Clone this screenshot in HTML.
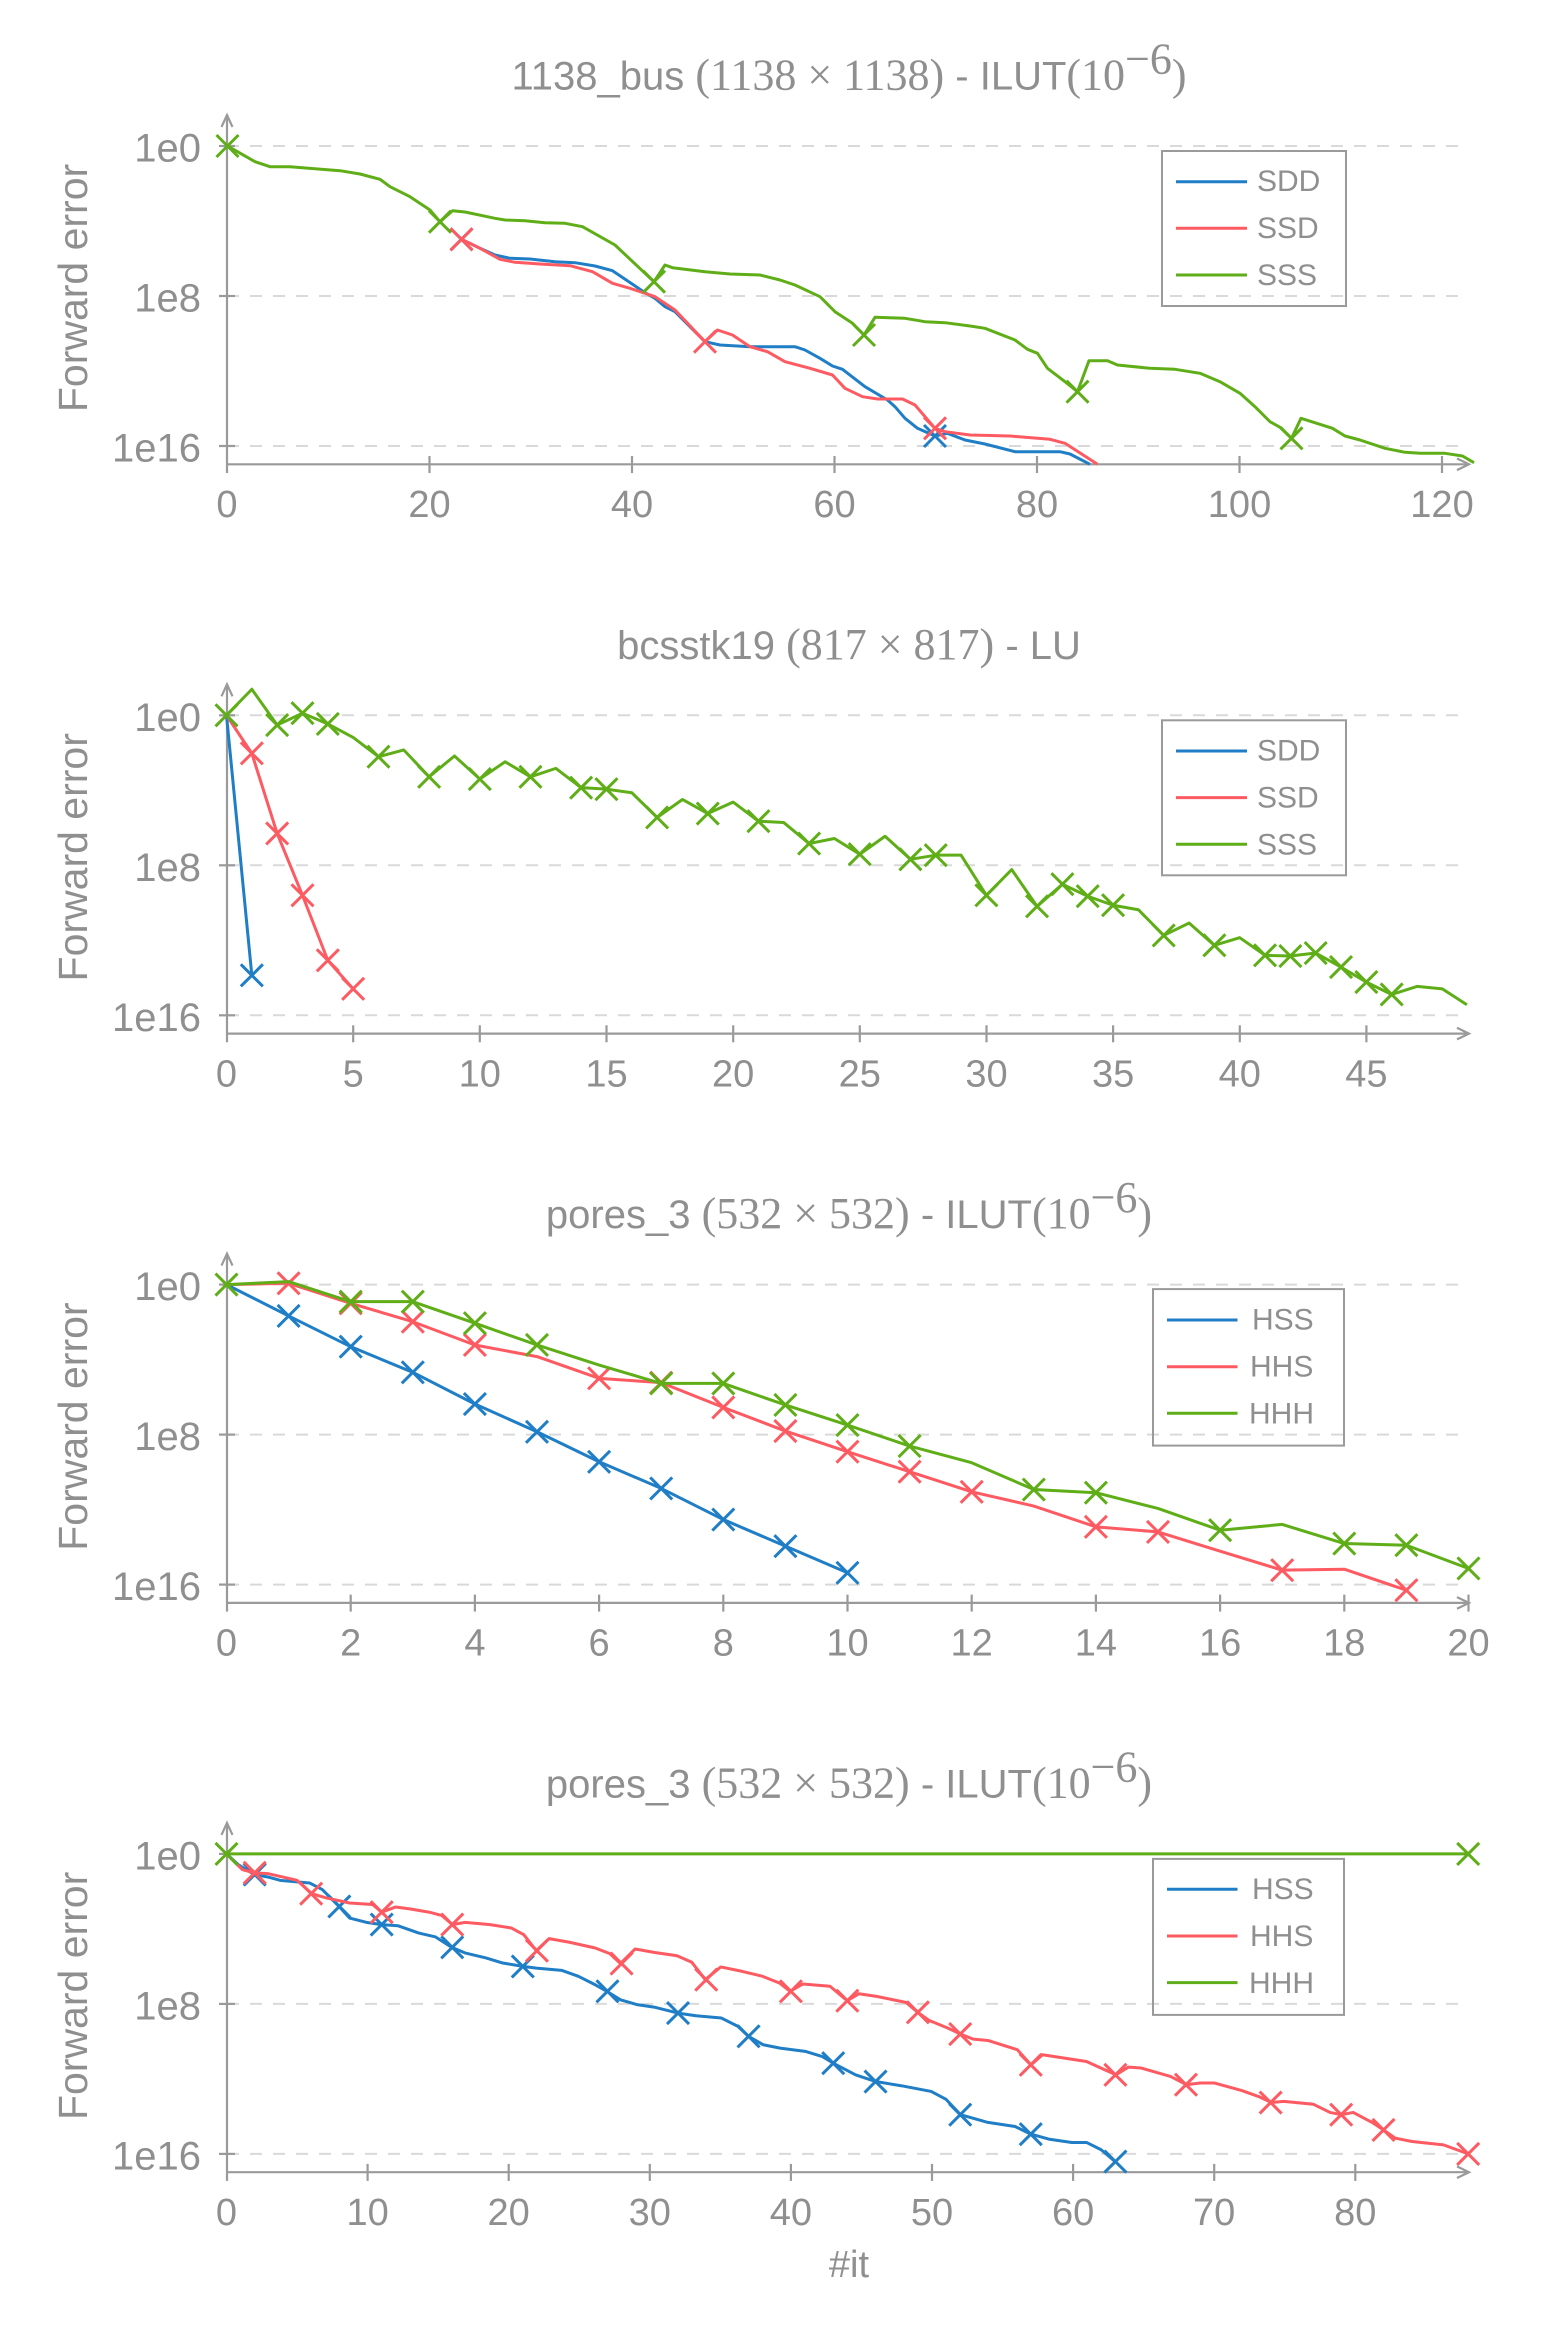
<!DOCTYPE html>
<html>
<head>
<meta charset="utf-8">
<style>
html,body{margin:0;padding:0;background:#fff;}
svg{display:block;}
text{font-family:"Liberation Sans",Arial,sans-serif;fill:#8f8f8f;}
.m{font-family:"Liberation Serif","Times New Roman",serif;font-size:44px;}
.t{font-size:40px;}
.xl{font-size:38px;}
.yl{font-size:40px;}
.lg{font-size:30px;}
.ax line,.ax polyline{stroke:#9a9a9a;stroke-width:2.2;fill:none;}
.gr line{stroke:#d9d9d9;stroke-width:2;stroke-dasharray:12 11;}
.s polyline{fill:none;vector-effect:non-scaling-stroke;stroke-linejoin:round;}
</style>
</head>
<body>
<svg width="1550" height="2341" viewBox="0 0 1550 2341" xmlns="http://www.w3.org/2000/svg">
<defs>
<path id="xm" d="M-11,-11L11,11M-11,11L11,-11" fill="none"/>
<g id="frame">
  <g class="gr">
    <line x1="227" y1="146" x2="1458" y2="146"/>
    <line x1="227" y1="296" x2="1458" y2="296"/>
    <line x1="227" y1="446" x2="1458" y2="446"/>
  </g>
  <g class="ax">
    <line x1="227" y1="473" x2="227" y2="116"/>
    <polyline points="221.5,127 227,115 232.5,127"/>
    <line x1="227" y1="464.3" x2="1468" y2="464.3"/>
    <polyline points="1457,458.5 1469,464.3 1457,470.1"/>
    <line x1="219" y1="146" x2="235" y2="146"/>
    <line x1="219" y1="296" x2="235" y2="296"/>
    <line x1="219" y1="446" x2="235" y2="446"/>
  </g>
  <text class="yl" x="201" y="161.5" text-anchor="end">1e0</text>
  <text class="yl" x="201" y="311.5" text-anchor="end">1e8</text>
  <text class="yl" x="201" y="461.5" text-anchor="end">1e16</text>
  <text transform="translate(87,288) rotate(-90)" text-anchor="middle" font-size="41">Forward error</text>
</g>
</defs>

<!-- ================= CHART 1 ================= -->
<g>
  <use href="#frame"/>
  <text class="t" x="849" y="89.5" text-anchor="middle">1138_bus <tspan class="m">(1138 × 1138)</tspan> - ILUT<tspan class="m">(10</tspan><tspan class="m" font-size="24" dy="-16">−6</tspan><tspan class="m" dy="16">)</tspan></text>
  <g class="ax">
    <line x1="429.5" y1="456" x2="429.5" y2="473"/>
    <line x1="632" y1="456" x2="632" y2="473"/>
    <line x1="834.5" y1="456" x2="834.5" y2="473"/>
    <line x1="1037" y1="456" x2="1037" y2="473"/>
    <line x1="1239.5" y1="456" x2="1239.5" y2="473"/>
    <line x1="1442" y1="456" x2="1442" y2="473"/>
  </g>
  <g class="xl" text-anchor="middle">
    <text x="227" y="517">0</text><text x="429.5" y="517">20</text><text x="632" y="517">40</text>
    <text x="834.5" y="517">60</text><text x="1037" y="517">80</text><text x="1239.5" y="517">100</text><text x="1442" y="517">120</text>
  </g>
  <!-- legend -->
  <rect x="1162" y="151" width="184" height="155" fill="none" stroke="#9a9a9a" stroke-width="2"/>
  <line x1="1176" y1="181.7" x2="1247" y2="181.7" stroke="#1f7ec6" stroke-width="3"/>
  <line x1="1176" y1="228.3" x2="1247" y2="228.3" stroke="#fd5a62" stroke-width="3"/>
  <line x1="1176" y1="275" x2="1247" y2="275" stroke="#5fae18" stroke-width="3"/>
  <text class="lg" x="1257" y="191">SDD</text>
  <text class="lg" x="1257" y="238">SSD</text>
  <text class="lg" x="1257" y="285">SSS</text>
  <!-- blue -->
  <g stroke="#1f7ec6" stroke-width="3" class="s">
    <polyline points="461.5,239.3 470,243.3 480,248.3 495,255 510,258.3 530,259 555,261.7 575,262.7 595,266 612.5,270.7 645,292.7 655,298.3 665,306.7 675,311.7 705,341.7 720,345 750,346.7 795,346.7 805,350 820,358.3 832.5,366 842.5,369.3 865,386.7 887.5,400 895,406.7 905,418.3 917.5,428.3 935,436 947.5,433.3 965,440 985,444 1015,451.7 1060,451.7 1070,454 1090,464.3"/>
    <use href="#xm" x="461.5" y="239.3"/><use href="#xm" x="935" y="436"/>
  </g>
  <!-- red -->
  <g stroke="#fd5a62" stroke-width="3" class="s">
    <polyline points="461.5,239.3 480,248.3 500,259.3 515,262.3 540,264 570,265.7 592.5,271.7 612.5,283.3 630,288.3 655,296.7 675,310 705,341.7 717.5,330 732.5,335 750,346.7 767.5,351.7 785,361.7 810,368.3 832.5,375 845,388.3 862.5,396.7 877.5,399 902.5,399 915,405 935,428.3 945,431.7 970,435 1010,436 1050,439.3 1065,443.3 1097.5,464.3"/>
    <use href="#xm" x="461.5" y="239.3"/><use href="#xm" x="705" y="341.7"/><use href="#xm" x="935" y="428.3"/>
  </g>
  <!-- green -->
  <g stroke="#5fae18" stroke-width="3" class="s">
    <polyline points="227.5,146 237.5,151.7 255,161.7 270,166.7 290,166.7 340,170.7 360,174 380,179.3 390,186.7 410,196.7 430,210 440,221.7 452.5,210.7 465,212 495,218.3 505,220 525,220.7 545,222.7 565,223.3 582.5,226.7 615,245 645,273.3 654,281.7 665,265 672.5,267.7 705,271.7 730,274 760,275 780,280 795,285 820,296.7 835,311.7 852.5,323.3 864,335 875,317.3 905,318.3 925,321.7 945,322.7 970,326 985,328.3 1015,340 1027.5,349.3 1037.5,353.3 1047.5,368.3 1065,381.7 1077.5,391.7 1089,360.7 1107.5,360.7 1117.5,365 1150,368.3 1175,369.3 1200,373.3 1220,381.7 1240,393.3 1255,406.7 1270,421.7 1280,427.3 1291.5,438.3 1301,418.3 1332.5,428.3 1345,436 1360,440 1385,448.3 1405,452.3 1420,453.3 1445,453.3 1462.5,456 1474,462.7"/>
    <use href="#xm" x="227.5" y="146"/><use href="#xm" x="440" y="221.7"/><use href="#xm" x="654" y="281.7"/>
    <use href="#xm" x="864" y="335"/><use href="#xm" x="1077.5" y="391.7"/><use href="#xm" x="1291.5" y="438.3"/>
  </g>
</g>

<!-- ================= CHART 2 ================= -->
<g transform="translate(0,569.3)">
  <use href="#frame"/>
  <text class="t" x="849" y="89.5" text-anchor="middle">bcsstk19 <tspan class="m">(817 × 817)</tspan> - LU</text>
  <g class="ax">
    <line x1="353.2" y1="456" x2="353.2" y2="473"/><line x1="479.8" y1="456" x2="479.8" y2="473"/>
    <line x1="606.5" y1="456" x2="606.5" y2="473"/><line x1="733.2" y1="456" x2="733.2" y2="473"/>
    <line x1="859.8" y1="456" x2="859.8" y2="473"/><line x1="986.5" y1="456" x2="986.5" y2="473"/>
    <line x1="1113.1" y1="456" x2="1113.1" y2="473"/><line x1="1239.8" y1="456" x2="1239.8" y2="473"/>
    <line x1="1366.4" y1="456" x2="1366.4" y2="473"/>
  </g>
  <g class="xl" text-anchor="middle">
    <text x="226.5" y="517">0</text><text x="353.2" y="517">5</text><text x="479.8" y="517">10</text>
    <text x="606.5" y="517">15</text><text x="733.2" y="517">20</text><text x="859.8" y="517">25</text>
    <text x="986.5" y="517">30</text><text x="1113.1" y="517">35</text><text x="1239.8" y="517">40</text><text x="1366.4" y="517">45</text>
  </g>
  <rect x="1162" y="151" width="184" height="155" fill="none" stroke="#9a9a9a" stroke-width="2"/>
  <line x1="1176" y1="181.7" x2="1247" y2="181.7" stroke="#1f7ec6" stroke-width="3"/>
  <line x1="1176" y1="228.3" x2="1247" y2="228.3" stroke="#fd5a62" stroke-width="3"/>
  <line x1="1176" y1="275" x2="1247" y2="275" stroke="#5fae18" stroke-width="3"/>
  <text class="lg" x="1257" y="191">SDD</text>
  <text class="lg" x="1257" y="238">SSD</text>
  <text class="lg" x="1257" y="285">SSS</text>
  <g transform="translate(226.5,146) scale(25.33,18.75)">
    <g stroke="#1f7ec6" stroke-width="3" class="s">
      <polyline points="0,0 1,13.87"/>
      <use href="#xm" transform="translate(1,13.87) scale(.039479,.053333)"/>
    </g>
    <g stroke="#fd5a62" stroke-width="3" class="s">
      <polyline points="0,0 1,2.03 2,6.3 3,9.6 4,13.07 5,14.59"/>
      <use href="#xm" transform="translate(1,2.03) scale(.039479,.053333)"/>
      <use href="#xm" transform="translate(2,6.3) scale(.039479,.053333)"/>
      <use href="#xm" transform="translate(3,9.6) scale(.039479,.053333)"/>
      <use href="#xm" transform="translate(4,13.07) scale(.039479,.053333)"/>
      <use href="#xm" transform="translate(5,14.59) scale(.039479,.053333)"/>
    </g>
    <g stroke="#5fae18" stroke-width="3" class="s">
      <polyline points="0,0 1,-1.39 2,0.52 3,-0.11 4,0.46 5,1.18 6,2.21 7,1.85 8,3.28 9,2.17 10,3.4 11,2.48 12,3.28 13,2.83 14,3.86 15,3.94 16,4.13 17,5.45 18,4.49 19,5.24 20,4.63 21,5.65 22,5.72 23,6.84 24,6.57 25,7.41 26,6.45 27,7.68 28,7.46 29,7.46 30,9.6 31,8.23 32,10.19 33,9.01 34,9.65 35,10.13 36,10.37 37,11.74 38,11.08 39,12.27 40,11.86 41,12.8 42,12.84 43,12.68 44,13.43 45,14.23 46,14.89 47,14.46 48,14.59 48.97,15.44"/>
      <use href="#xm" transform="translate(0,0) scale(.039479,.053333)"/>
      <use href="#xm" transform="translate(2,0.52) scale(.039479,.053333)"/>
      <use href="#xm" transform="translate(3,-0.11) scale(.039479,.053333)"/>
      <use href="#xm" transform="translate(4,0.46) scale(.039479,.053333)"/>
      <use href="#xm" transform="translate(6,2.21) scale(.039479,.053333)"/>
      <use href="#xm" transform="translate(8,3.28) scale(.039479,.053333)"/>
      <use href="#xm" transform="translate(10,3.4) scale(.039479,.053333)"/>
      <use href="#xm" transform="translate(12,3.28) scale(.039479,.053333)"/>
      <use href="#xm" transform="translate(14,3.86) scale(.039479,.053333)"/>
      <use href="#xm" transform="translate(15,3.94) scale(.039479,.053333)"/>
      <use href="#xm" transform="translate(17,5.45) scale(.039479,.053333)"/>
      <use href="#xm" transform="translate(19,5.24) scale(.039479,.053333)"/>
      <use href="#xm" transform="translate(21,5.65) scale(.039479,.053333)"/>
      <use href="#xm" transform="translate(23,6.84) scale(.039479,.053333)"/>
      <use href="#xm" transform="translate(25,7.41) scale(.039479,.053333)"/>
      <use href="#xm" transform="translate(27,7.68) scale(.039479,.053333)"/>
      <use href="#xm" transform="translate(28,7.46) scale(.039479,.053333)"/>
      <use href="#xm" transform="translate(30,9.6) scale(.039479,.053333)"/>
      <use href="#xm" transform="translate(32,10.19) scale(.039479,.053333)"/>
      <use href="#xm" transform="translate(33,9.01) scale(.039479,.053333)"/>
      <use href="#xm" transform="translate(34,9.65) scale(.039479,.053333)"/>
      <use href="#xm" transform="translate(35,10.13) scale(.039479,.053333)"/>
      <use href="#xm" transform="translate(37,11.74) scale(.039479,.053333)"/>
      <use href="#xm" transform="translate(39,12.27) scale(.039479,.053333)"/>
      <use href="#xm" transform="translate(41,12.8) scale(.039479,.053333)"/>
      <use href="#xm" transform="translate(42,12.84) scale(.039479,.053333)"/>
      <use href="#xm" transform="translate(43,12.68) scale(.039479,.053333)"/>
      <use href="#xm" transform="translate(44,13.43) scale(.039479,.053333)"/>
      <use href="#xm" transform="translate(45,14.23) scale(.039479,.053333)"/>
      <use href="#xm" transform="translate(46,14.89) scale(.039479,.053333)"/>
    </g>
  </g>
</g>

<!-- ================= CHART 3 ================= -->
<g transform="translate(0,1138.6)">
  <use href="#frame"/>
  <text class="t" x="849" y="89.5" text-anchor="middle">pores_3 <tspan class="m">(532 × 532)</tspan> - ILUT<tspan class="m">(10</tspan><tspan class="m" font-size="24" dy="-16">−6</tspan><tspan class="m" dy="16">)</tspan></text>
  <g class="ax">
    <line x1="350.7" y1="456" x2="350.7" y2="473"/><line x1="474.9" y1="456" x2="474.9" y2="473"/>
    <line x1="599.1" y1="456" x2="599.1" y2="473"/><line x1="723.3" y1="456" x2="723.3" y2="473"/>
    <line x1="847.5" y1="456" x2="847.5" y2="473"/><line x1="971.7" y1="456" x2="971.7" y2="473"/>
    <line x1="1095.9" y1="456" x2="1095.9" y2="473"/><line x1="1220.1" y1="456" x2="1220.1" y2="473"/>
    <line x1="1344.3" y1="456" x2="1344.3" y2="473"/><line x1="1468.5" y1="456" x2="1468.5" y2="473"/>
  </g>
  <g class="xl" text-anchor="middle">
    <text x="226.5" y="517">0</text><text x="350.7" y="517">2</text><text x="474.9" y="517">4</text>
    <text x="599.1" y="517">6</text><text x="723.3" y="517">8</text><text x="847.5" y="517">10</text>
    <text x="971.7" y="517">12</text><text x="1095.9" y="517">14</text><text x="1220.1" y="517">16</text>
    <text x="1344.3" y="517">18</text><text x="1468.5" y="517">20</text>
  </g>
  <rect x="1153" y="150.5" width="191" height="156.5" fill="none" stroke="#9a9a9a" stroke-width="2"/>
  <line x1="1167" y1="181.4" x2="1237.5" y2="181.4" stroke="#1f7ec6" stroke-width="3"/>
  <line x1="1167" y1="228.1" x2="1237.5" y2="228.1" stroke="#fd5a62" stroke-width="3"/>
  <line x1="1167" y1="274.7" x2="1237.5" y2="274.7" stroke="#5fae18" stroke-width="3"/>
  <text class="lg" x="1252" y="191">HSS</text>
  <text class="lg" x="1250" y="238">HHS</text>
  <text class="lg" x="1249" y="285">HHH</text>
  <g transform="translate(226.5,146) scale(62.1,18.75)">
    <g stroke="#1f7ec6" stroke-width="3" class="s">
      <polyline points="0,0 1,1.67 2,3.31 3,4.68 4,6.37 5,7.85 6,9.45 7,10.87 8,12.53 9,13.95 10,15.37"/>
      <use href="#xm" transform="translate(1,1.67) scale(.016103,.053333)"/>
      <use href="#xm" transform="translate(2,3.31) scale(.016103,.053333)"/>
      <use href="#xm" transform="translate(3,4.68) scale(.016103,.053333)"/>
      <use href="#xm" transform="translate(4,6.37) scale(.016103,.053333)"/>
      <use href="#xm" transform="translate(5,7.85) scale(.016103,.053333)"/>
      <use href="#xm" transform="translate(6,9.45) scale(.016103,.053333)"/>
      <use href="#xm" transform="translate(7,10.87) scale(.016103,.053333)"/>
      <use href="#xm" transform="translate(8,12.53) scale(.016103,.053333)"/>
      <use href="#xm" transform="translate(9,13.95) scale(.016103,.053333)"/>
      <use href="#xm" transform="translate(10,15.37) scale(.016103,.053333)"/>
    </g>
    <g stroke="#fd5a62" stroke-width="3" class="s">
      <polyline points="0,0 1,-0.07 2,1.0 3,1.98 4,3.22 5,3.84 6,5.0 7,5.23 8,6.55 9,7.81 10,8.91 11,9.98 12,11.05 13,11.81 14,12.92 15,13.19 16,14.22 17,15.23 18,15.18 19,16.3"/>
      <use href="#xm" transform="translate(1,-0.07) scale(.016103,.053333)"/>
      <use href="#xm" transform="translate(2,1.0) scale(.016103,.053333)"/>
      <use href="#xm" transform="translate(3,1.98) scale(.016103,.053333)"/>
      <use href="#xm" transform="translate(4,3.22) scale(.016103,.053333)"/>
      <use href="#xm" transform="translate(6,5.0) scale(.016103,.053333)"/>
      <use href="#xm" transform="translate(7,5.23) scale(.016103,.053333)"/>
      <use href="#xm" transform="translate(8,6.55) scale(.016103,.053333)"/>
      <use href="#xm" transform="translate(9,7.81) scale(.016103,.053333)"/>
      <use href="#xm" transform="translate(10,8.91) scale(.016103,.053333)"/>
      <use href="#xm" transform="translate(11,9.98) scale(.016103,.053333)"/>
      <use href="#xm" transform="translate(12,11.05) scale(.016103,.053333)"/>
      <use href="#xm" transform="translate(14,12.92) scale(.016103,.053333)"/>
      <use href="#xm" transform="translate(15,13.19) scale(.016103,.053333)"/>
      <use href="#xm" transform="translate(17,15.23) scale(.016103,.053333)"/>
      <use href="#xm" transform="translate(19,16.3) scale(.016103,.053333)"/>
    </g>
    <g stroke="#5fae18" stroke-width="3" class="s">
      <polyline points="0,0 1,-0.16 2,0.91 3,0.91 4,2.06 5,3.22 6,4.29 7,5.27 8,5.27 9,6.42 10,7.49 11,8.61 12,9.5 13,10.93 14,11.1 15,11.94 16,13.1 17,12.79 18,13.81 19,13.9 20,15.14"/>
      <use href="#xm" transform="translate(0,0) scale(.016103,.053333)"/>
      <use href="#xm" transform="translate(2,0.91) scale(.016103,.053333)"/>
      <use href="#xm" transform="translate(3,0.91) scale(.016103,.053333)"/>
      <use href="#xm" transform="translate(4,2.06) scale(.016103,.053333)"/>
      <use href="#xm" transform="translate(5,3.22) scale(.016103,.053333)"/>
      <use href="#xm" transform="translate(7,5.27) scale(.016103,.053333)"/>
      <use href="#xm" transform="translate(8,5.27) scale(.016103,.053333)"/>
      <use href="#xm" transform="translate(9,6.42) scale(.016103,.053333)"/>
      <use href="#xm" transform="translate(10,7.49) scale(.016103,.053333)"/>
      <use href="#xm" transform="translate(11,8.61) scale(.016103,.053333)"/>
      <use href="#xm" transform="translate(13,10.93) scale(.016103,.053333)"/>
      <use href="#xm" transform="translate(14,11.1) scale(.016103,.053333)"/>
      <use href="#xm" transform="translate(16,13.1) scale(.016103,.053333)"/>
      <use href="#xm" transform="translate(18,13.81) scale(.016103,.053333)"/>
      <use href="#xm" transform="translate(19,13.9) scale(.016103,.053333)"/>
      <use href="#xm" transform="translate(20,15.14) scale(.016103,.053333)"/>
    </g>
  </g>
</g>

<!-- ================= CHART 4 ================= -->
<g transform="translate(0,1707.9)">
  <use href="#frame"/>
  <text class="t" x="849" y="89.5" text-anchor="middle">pores_3 <tspan class="m">(532 × 532)</tspan> - ILUT<tspan class="m">(10</tspan><tspan class="m" font-size="24" dy="-16">−6</tspan><tspan class="m" dy="16">)</tspan></text>
  <g class="ax">
    <line x1="367.6" y1="456" x2="367.6" y2="473"/><line x1="508.7" y1="456" x2="508.7" y2="473"/>
    <line x1="649.8" y1="456" x2="649.8" y2="473"/><line x1="790.9" y1="456" x2="790.9" y2="473"/>
    <line x1="932" y1="456" x2="932" y2="473"/><line x1="1073.1" y1="456" x2="1073.1" y2="473"/>
    <line x1="1214.2" y1="456" x2="1214.2" y2="473"/><line x1="1355.3" y1="456" x2="1355.3" y2="473"/>
  </g>
  <g class="xl" text-anchor="middle">
    <text x="226.5" y="517">0</text><text x="367.6" y="517">10</text><text x="508.7" y="517">20</text>
    <text x="649.8" y="517">30</text><text x="790.9" y="517">40</text><text x="932" y="517">50</text>
    <text x="1073.1" y="517">60</text><text x="1214.2" y="517">70</text><text x="1355.3" y="517">80</text>
  </g>
  <text class="xl" x="849" y="569" text-anchor="middle">#it</text>
  <rect x="1153" y="151" width="191" height="156" fill="none" stroke="#9a9a9a" stroke-width="2"/>
  <line x1="1167" y1="181.4" x2="1237.5" y2="181.4" stroke="#1f7ec6" stroke-width="3"/>
  <line x1="1167" y1="228.1" x2="1237.5" y2="228.1" stroke="#fd5a62" stroke-width="3"/>
  <line x1="1167" y1="274.7" x2="1237.5" y2="274.7" stroke="#5fae18" stroke-width="3"/>
  <text class="lg" x="1252" y="191">HSS</text>
  <text class="lg" x="1250" y="238">HHS</text>
  <text class="lg" x="1249" y="285">HHH</text>
  <g transform="translate(226.5,146) scale(14.11,18.75)">
    <g stroke="#1f7ec6" stroke-width="3" class="s">
      <polyline points="0,0 0.83,0.57 1.96,1.10 2.92,1.23 3.8,1.41 5.89,1.55 6.79,1.9 7.92,2.76 8.72,3.42 9.91,3.65 11.0,3.77 12.14,3.83 13.63,4.22 14.82,4.43 15.95,4.98 16.9,5.28 18.39,5.55 19.58,5.82 21.01,6.0 21.96,6.09 23.75,6.21 24.94,6.53 26.13,6.98 26.96,7.33 27.92,7.78 29.1,8.04 30.3,8.17 31.99,8.49 33.27,8.63 35.06,8.75 36.25,9.2 36.99,9.73 38.04,10.18 39.23,10.36 41.01,10.53 42.2,10.8 43.0,11.16 44.58,11.78 46.01,12.14 47.86,12.37 49.94,12.67 50.98,13.08 52.02,13.91 53.96,14.32 55.89,14.54 57.02,14.95 58.27,15.21 59.91,15.39 60.95,15.39 61.99,15.78 62.98,16.41"/>
      <use href="#xm" transform="translate(2,1.1) scale(.070872,.053333)"/>
      <use href="#xm" transform="translate(8,2.8) scale(.070872,.053333)"/>
      <use href="#xm" transform="translate(11,3.77) scale(.070872,.053333)"/>
      <use href="#xm" transform="translate(16,4.98) scale(.070872,.053333)"/>
      <use href="#xm" transform="translate(21,6.0) scale(.070872,.053333)"/>
      <use href="#xm" transform="translate(27,7.33) scale(.070872,.053333)"/>
      <use href="#xm" transform="translate(32,8.49) scale(.070872,.053333)"/>
      <use href="#xm" transform="translate(37,9.73) scale(.070872,.053333)"/>
      <use href="#xm" transform="translate(43,11.16) scale(.070872,.053333)"/>
      <use href="#xm" transform="translate(46,12.14) scale(.070872,.053333)"/>
      <use href="#xm" transform="translate(52,13.91) scale(.070872,.053333)"/>
      <use href="#xm" transform="translate(57,14.95) scale(.070872,.053333)"/>
      <use href="#xm" transform="translate(63,16.41) scale(.070872,.053333)"/>
    </g>
    <g stroke="#fd5a62" stroke-width="3" class="s">
      <polyline points="0,0 1.13,0.84 1.96,1.01 2.92,1.05 5.0,1.41 6.04,2.12 7.08,2.35 8.72,2.62 10.36,2.7 11.0,3.11 11.99,2.83 13.04,2.94 14.38,3.11 15.27,3.29 16.01,3.77 16.9,3.65 18.69,3.77 20.18,3.95 21.07,4.31 21.96,5.16 22.86,4.52 24.35,4.72 26.13,5.02 27.17,5.32 27.92,5.85 28.96,5.07 30.3,5.25 31.93,5.43 32.98,5.78 33.93,6.71 35.03,6.03 36.52,6.26 38.0,6.53 39.2,6.89 39.94,7.33 40.84,6.94 42.77,7.06 43.99,7.83 44.82,7.46 46.07,7.6 48.15,7.92 48.99,8.45 49.79,8.88 51.13,9.29 52.02,9.61 52.92,9.88 53.96,9.95 56.04,10.44 57.02,11.25 57.83,10.71 60.95,11.07 62.14,11.48 63.04,11.78 63.93,11.37 64.82,11.42 66.9,11.87 68.04,12.31 68.99,12.22 70.03,12.22 71.96,12.62 73.15,12.94 74.05,13.26 74.94,13.2 77.02,13.35 78.21,13.79 79.02,13.91 79.85,13.79 81.19,14.32 81.99,14.72 82.83,15.16 84.02,15.34 86.25,15.52 88,16.0"/>
      <use href="#xm" transform="translate(2,1.01) scale(.070872,.053333)"/>
      <use href="#xm" transform="translate(6,2.12) scale(.070872,.053333)"/>
      <use href="#xm" transform="translate(11,3.11) scale(.070872,.053333)"/>
      <use href="#xm" transform="translate(16,3.77) scale(.070872,.053333)"/>
      <use href="#xm" transform="translate(22,5.16) scale(.070872,.053333)"/>
      <use href="#xm" transform="translate(28,5.85) scale(.070872,.053333)"/>
      <use href="#xm" transform="translate(34,6.71) scale(.070872,.053333)"/>
      <use href="#xm" transform="translate(40,7.33) scale(.070872,.053333)"/>
      <use href="#xm" transform="translate(44,7.83) scale(.070872,.053333)"/>
      <use href="#xm" transform="translate(49,8.45) scale(.070872,.053333)"/>
      <use href="#xm" transform="translate(52,9.61) scale(.070872,.053333)"/>
      <use href="#xm" transform="translate(57,11.25) scale(.070872,.053333)"/>
      <use href="#xm" transform="translate(63,11.78) scale(.070872,.053333)"/>
      <use href="#xm" transform="translate(68,12.31) scale(.070872,.053333)"/>
      <use href="#xm" transform="translate(74,13.26) scale(.070872,.053333)"/>
      <use href="#xm" transform="translate(79,13.91) scale(.070872,.053333)"/>
      <use href="#xm" transform="translate(82,14.72) scale(.070872,.053333)"/>
      <use href="#xm" transform="translate(88,16.0) scale(.070872,.053333)"/>
    </g>
    <g stroke="#5fae18" stroke-width="3" class="s">
      <polyline points="0,0 88,0"/>
      <use href="#xm" transform="translate(0,0) scale(.070872,.053333)"/>
      <use href="#xm" transform="translate(88,0) scale(.070872,.053333)"/>
    </g>
  </g>
</g>
</svg>
</body>
</html>
